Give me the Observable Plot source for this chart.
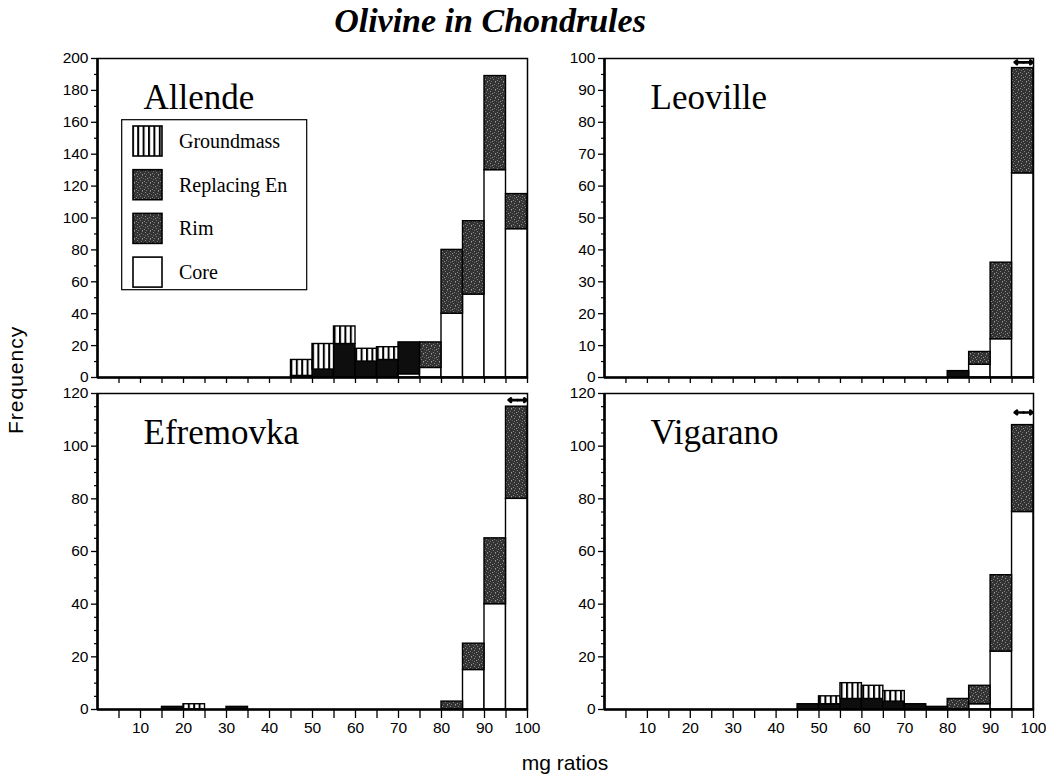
<!DOCTYPE html>
<html><head><meta charset="utf-8">
<script src="https://cdn.jsdelivr.net/npm/d3@7"></script>
<script src="https://cdn.jsdelivr.net/npm/@observablehq/plot@0.6"></script>
<style>
body{margin:0;background:#fff;}
#wrap{position:relative;width:1046px;height:778px;overflow:hidden;background:#fff;}
.abs{position:absolute;}
.abs svg{overflow:visible;}
</style></head><body>
<svg width="0" height="0" style="position:absolute">
  <defs>
    <pattern id="gm" patternUnits="userSpaceOnUse" width="5.4" height="10">
      <rect width="5.4" height="10" fill="white"/>
      <rect x="0" width="2" height="10" fill="black"/>
    </pattern>
    <pattern id="rim" patternUnits="userSpaceOnUse" width="8" height="8">
      <rect width="8" height="8" fill="#333"/>
      <rect x="0" y="1" width="1" height="1" fill="#8c8c8c"/>
      <rect x="3" y="5" width="1" height="1" fill="#7e7e7e"/>
      <rect x="5" y="0" width="1" height="1" fill="#6e6e6e"/>
      <rect x="2" y="3" width="1" height="1" fill="#959595"/>
      <rect x="6" y="3" width="1" height="1" fill="#5e5e5e"/>
      <rect x="7" y="6" width="1" height="1" fill="#888"/>
      <rect x="1" y="7" width="1" height="1" fill="#6a6a6a"/>
      <rect x="4" y="2" width="1" height="1" fill="#777"/>
      <rect x="5" y="7" width="1" height="1" fill="#999"/>
      <rect x="0" y="4" width="1" height="1" fill="#707070"/>
    </pattern>
  </defs>
</svg>
<div id="wrap"></div>
<script>
// bins of mg ratio (start of each 5-wide bin)
const binStart = [0,5,10,15,20,25,30,35,40,45,50,55,60,65,70,75,80,85,90,95];
const types = ["Core","Rim","Replacing En","Groundmass"];

// Allende
const allendeCore       = [0,0,0,0,0,0,0,0,0,0,0,0,0,0,2,6,40,52,130,93];
const allendeRim        = [0,0,0,0,0,0,0,0,0,0,0,0,0,0,0,16,40,46,59,22];
const allendeReplacing  = [0,0,0,0,0,0,0,0,0,1,5,21,10,11,20,0,0,0,0,0];
const allendeGroundmass = [0,0,0,0,0,0,0,0,0,10,16,11,8,8,0,0,0,0,0,0];
// Leoville
const leovilleCore       = [0,0,0,0,0,0,0,0,0,0,0,0,0,0,0,0,0,4,12,64];
const leovilleRim        = [0,0,0,0,0,0,0,0,0,0,0,0,0,0,0,0,0,4,24,33];
const leovilleReplacing  = [0,0,0,0,0,0,0,0,0,0,0,0,0,0,0,0,2,0,0,0];
const leovilleGroundmass = [0,0,0,0,0,0,0,0,0,0,0,0,0,0,0,0,0,0,0,0];
// Efremovka
const efremovkaCore       = [0,0,0,0,0,0,0,0,0,0,0,0,0,0,0,0,0,15,40,80];
const efremovkaRim        = [0,0,0,0,0,0,0,0,0,0,0,0,0,0,0,0,3,10,25,35];
const efremovkaReplacing  = [0,0,0,1,0,0,1,0,0,0,0,0,0,0,0,0,0,0,0,0];
const efremovkaGroundmass = [0,0,0,0,2,0,0,0,0,0,0,0,0,0,0,0,0,0,0,0];
// Vigarano
const vigaranoCore       = [0,0,0,0,0,0,0,0,0,0,0,0,0,0,0,0,0,2,22,75];
const vigaranoRim        = [0,0,0,0,0,0,0,0,0,0,0,0,0,0,0,0,4,7,29,33];
const vigaranoReplacing  = [0,0,0,0,0,0,0,0,0,2,2,4,4,3,2,1,0,0,0,0];
const vigaranoGroundmass = [0,0,0,0,0,0,0,0,0,0,3,6,5,4,0,0,0,0,0,0];

// double-headed range arrows over the last bin: [from, to, frequency level]
const leovilleArrow  = [95.6, 99.8, 98.8];
const efremovkaArrow = [95.6, 99.8, 117.5];
const vigaranoArrow  = [95.6, 99.8, 112.8];

// tick labels
const xTicks = [5,10,15,20,25,30,35,40,45,50,55,60,65,70,75,80,85,90,95,100];
const allendeY = [0,20,40,60,80,100,120,140,160,180,200];
const allendeYMinor = [10,30,50,70,90,110,130,150,170,190];
const leovilleY = [0,10,20,30,40,50,60,70,80,90,100];
const leovilleYMinor = [5,15,25,35,45,55,65,75,85,95];
const lowerY = [0,20,40,60,80,100,120];
const lowerYMinor = [5,10,15,25,30,35,45,50,55,65,70,75,85,90,95,105,110,115];

const fills = {"Core":"white","Rim":"url(#rim)","Replacing En":"#0e0e0e","Groundmass":"url(#gm)"};

const wrap = document.getElementById("wrap");

function panel(cfg){
  const series = {"Core":cfg.core,"Rim":cfg.rim,"Replacing En":cfg.rep,"Groundmass":cfg.gm};
  const rows = [];
  binStart.forEach((b,i)=>{
    let y0 = 0;
    for (const t of types){
      const v = series[t][i];
      if (v > 0){ rows.push({type:t, x1:b, x2:b+5, y1:y0, y2:y0+v}); y0 += v; }
    }
  });
  const mL = 55, mR = 10, mT = 8, mB = cfg.bottom ? 42 : 8;
  const w = cfg.pw + mL + mR, h = cfg.ph + mT + mB;
  const marks = [];
  for (const t of types){
    marks.push(Plot.rect(rows.filter(r=>r.type===t), {x1:"x1",x2:"x2",y1:"y1",y2:"y2",fill:fills[t],stroke:"black",strokeWidth:1.4}));
  }
  marks.push(Plot.frame({stroke:"black", strokeWidth:1.5}));
  marks.push(Plot.ruleX([0], {stroke:"black", strokeWidth:2.6}));
  marks.push(Plot.ruleY([0], {stroke:"black", strokeWidth:2.6}));
  marks.push(Plot.axisY({ticks: cfg.yTicks, tickSize:6, tickPadding:3, label:null, fontSize:15.5, strokeWidth:1.3}));
  marks.push(Plot.axisY({ticks: cfg.yMinor, tickSize:3, tickFormat:()=>"", label:null, strokeWidth:1.2}));
  marks.push(Plot.axisX({ticks: xTicks, tickSize: cfg.bottom ? 9 : 6, tickPadding:3, label:null, fontSize:15.5, strokeWidth:1.3,
    tickFormat: cfg.bottom ? (d => d % 10 === 0 ? String(d) : "") : (()=>"")}));
  marks.push(Plot.text([cfg.name], {frameAnchor:"top-left", dx:46, dy:39, textAnchor:"start", lineAnchor:"middle",
    fontSize:35, fontFamily:"Liberation Serif", fill:"black"}));
  if (cfg.arrow){
    const a = cfg.arrow, mid = (a[0]+a[1])/2;
    const ar = [{x1:mid,x2:a[0],y:a[2]},{x1:mid,x2:a[1],y:a[2]}];
    marks.push(Plot.arrow(ar, {x1:"x1",x2:"x2",y1:"y",y2:"y",stroke:"black",strokeWidth:2.6,headLength:6,headAngle:75}));
  }
  const svg = Plot.plot({
    width:w, height:h, marginLeft:mL, marginRight:mR, marginTop:mT, marginBottom:mB,
    x:{domain:[0,100]}, y:{domain:[0,cfg.ymax]},
    style:{background:"transparent", fontFamily:"Liberation Sans", fontSize:"15px", color:"black", overflow:"visible"},
    marks
  });
  const d = document.createElement("div");
  d.className = "abs";
  d.style.left = (cfg.px - mL) + "px";
  d.style.top = (cfg.py - mT) + "px";
  d.appendChild(svg);
  wrap.appendChild(d);
}

panel({name:"Allende", core:allendeCore, rim:allendeRim, rep:allendeReplacing, gm:allendeGroundmass,
  ymax:200, yTicks:allendeY, yMinor:allendeYMinor, px:97, py:58, pw:430, ph:319, bottom:false});
panel({name:"Leoville", core:leovilleCore, rim:leovilleRim, rep:leovilleReplacing, gm:leovilleGroundmass,
  ymax:100, yTicks:leovilleY, yMinor:leovilleYMinor, px:604, py:58, pw:429, ph:319, bottom:false, arrow:leovilleArrow});
panel({name:"Efremovka", core:efremovkaCore, rim:efremovkaRim, rep:efremovkaReplacing, gm:efremovkaGroundmass,
  ymax:120, yTicks:lowerY, yMinor:lowerYMinor, px:97, py:393, pw:430, ph:316, bottom:true, arrow:efremovkaArrow});
panel({name:"Vigarano", core:vigaranoCore, rim:vigaranoRim, rep:vigaranoReplacing, gm:vigaranoGroundmass,
  ymax:120, yTicks:lowerY, yMinor:lowerYMinor, px:604, py:393, pw:429, ph:316, bottom:true, arrow:vigaranoArrow});

// legend (inside Allende panel)
const legendItems = ["Groundmass","Replacing En","Rim","Core"];
const legendFill = {"Groundmass":"url(#gm)","Replacing En":"url(#rim)","Rim":"url(#rim)","Core":"white"};
const ns = "http://www.w3.org/2000/svg";
const lg = document.createElementNS(ns,"svg");
lg.setAttribute("width",188); lg.setAttribute("height",173);
const box = document.createElementNS(ns,"rect");
box.setAttribute("x",0.7); box.setAttribute("y",0.7); box.setAttribute("width",185); box.setAttribute("height",170);
box.setAttribute("fill","white"); box.setAttribute("stroke","black"); box.setAttribute("stroke-width",1.2);
lg.appendChild(box);
legendItems.forEach((t,i)=>{
  const cy = 22 + i*43.7;
  const r = document.createElementNS(ns,"rect");
  r.setAttribute("x",12); r.setAttribute("y",cy-15); r.setAttribute("width",29); r.setAttribute("height",30);
  r.setAttribute("fill",legendFill[t]); r.setAttribute("stroke","black"); r.setAttribute("stroke-width",1.6);
  lg.appendChild(r);
  const tx = document.createElementNS(ns,"text");
  tx.setAttribute("x",58); tx.setAttribute("y",cy); tx.setAttribute("dominant-baseline","central");
  tx.setAttribute("font-family","Liberation Serif"); tx.setAttribute("font-size","20");
  tx.textContent = t;
  lg.appendChild(tx);
});
const lgd = document.createElement("div");
lgd.className = "abs"; lgd.style.left = "121px"; lgd.style.top = "119px";
lgd.appendChild(lg); wrap.appendChild(lgd);

// titles
function addText(txt, css){
  const d = document.createElement("div");
  d.className = "abs"; d.textContent = txt;
  Object.assign(d.style, css);
  wrap.appendChild(d);
}
addText("Olivine in Chondrules", {left:"240px", top:"4px", width:"500px", textAlign:"center",
  fontFamily:"Liberation Serif", fontWeight:"bold", fontStyle:"italic", fontSize:"34px", lineHeight:"34px"});
addText("Frequency", {left:"-34px", top:"372px", width:"100px", textAlign:"center", transform:"rotate(-90deg)",
  fontFamily:"Liberation Sans", fontSize:"21px", lineHeight:"24px", letterSpacing:"1px"});
addText("mg ratios", {left:"465px", top:"751px", width:"200px", textAlign:"center",
  fontFamily:"Liberation Sans", fontSize:"21px", lineHeight:"24px"});
</script>
</body></html>
